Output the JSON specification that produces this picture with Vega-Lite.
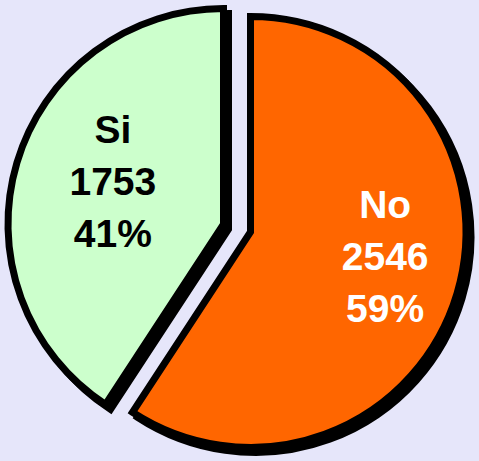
{
  "$schema": "https://vega.github.io/schema/vega-lite/v6.json",
  "width": 479,
  "height": 461,
  "autosize": {"type": "fit", "contains": "padding"},
  "padding": 0,
  "background": "#e6e6fa",
  "view": {"stroke": null},
  "data": {
    "values": [
      {"cat": "No", "value": 2546, "label": "No\n2546\n59%"},
      {"cat": "Si", "value": 1753, "label": "Si\n1753\n41%"}
    ]
  },
  "encoding": {
    "theta": {"field": "value", "type": "quantitative", "stack": true}
  },
  "layer": [
    {
      "mark": {"type": "arc", "radius": 215.5, "xOffset": 21.5, "yOffset": 10.4, "fill": "#000000", "stroke": "#000000", "strokeWidth": 7},
      "encoding": {"opacity": {"condition": {"test": "datum.cat === 'No'", "value": 1}, "value": 0}}
    },
    {
      "mark": {"type": "arc", "radius": 215.5, "xOffset": -5.5, "yOffset": 2.6, "fill": "#000000", "stroke": "#000000", "strokeWidth": 7},
      "encoding": {"opacity": {"condition": {"test": "datum.cat === 'Si'", "value": 1}, "value": 0}}
    },
    {
      "mark": {"type": "arc", "radius": 215.5, "xOffset": 16.5, "yOffset": 5.4, "stroke": "#000000", "strokeWidth": 7, "strokeJoin": "miter"},
      "encoding": {
        "color": {"field": "cat", "type": "nominal", "scale": {"domain": ["No", "Si"], "range": ["#ff6600", "#ccffcc"]}, "legend": null},
        "opacity": {"condition": {"test": "datum.cat === 'No'", "value": 1}, "value": 0}
      }
    },
    {
      "mark": {"type": "arc", "radius": 215.5, "xOffset": -10.5, "yOffset": -2.4, "stroke": "#000000", "strokeWidth": 7, "strokeJoin": "miter"},
      "encoding": {
        "color": {"field": "cat", "type": "nominal", "scale": {"domain": ["No", "Si"], "range": ["#ff6600", "#ccffcc"]}, "legend": null},
        "opacity": {"condition": {"test": "datum.cat === 'Si'", "value": 1}, "value": 0}
      }
    },
    {
      "mark": {"type": "text", "radius": 138.4, "xOffset": 18.5, "yOffset": -59.6, "font": "Liberation Sans", "fontWeight": "bold", "fontSize": 39, "lineHeight": 52, "lineBreak": "\n", "align": "center", "baseline": "middle", "fill": "#ffffff"},
      "encoding": {
        "text": {"field": "label"},
        "opacity": {"condition": {"test": "datum.cat === 'No'", "value": 1}, "value": 0}
      }
    },
    {
      "mark": {"type": "text", "radius": 116.5, "xOffset": -9.5, "yOffset": -62.4, "font": "Liberation Sans", "fontWeight": "bold", "fontSize": 39, "lineHeight": 52, "lineBreak": "\n", "align": "center", "baseline": "middle", "fill": "#000000"},
      "encoding": {
        "text": {"field": "label"},
        "opacity": {"condition": {"test": "datum.cat === 'Si'", "value": 1}, "value": 0}
      }
    }
  ]
}
